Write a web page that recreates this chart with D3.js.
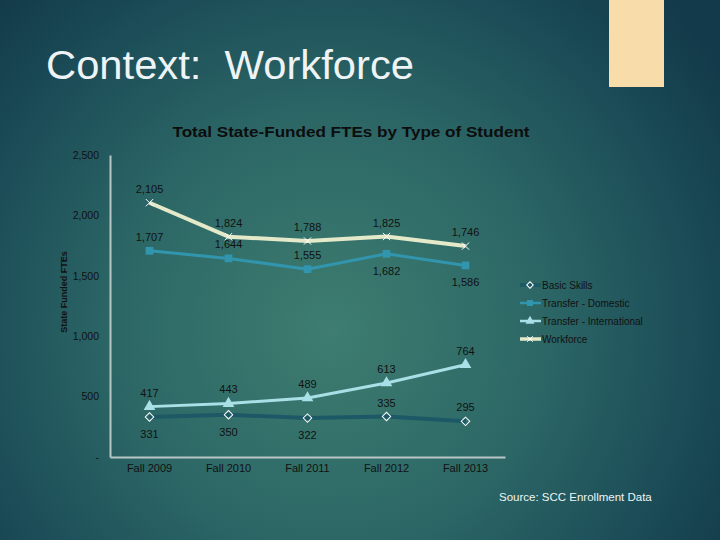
<!DOCTYPE html>
<html><head><meta charset="utf-8">
<script src="https://cdn.jsdelivr.net/npm/d3@7"></script>
<style>html,body{margin:0;padding:0;background:#153f4e;}svg{display:block;}</style>
</head><body>
<script>
const categories = ["Fall 2009","Fall 2010","Fall 2011","Fall 2012","Fall 2013"];
const basicSkills = [331,350,322,335,295];
const transferDomestic = [1707,1644,1555,1682,1586];
const transferInternational = [417,443,489,613,764];
const workforce = [2105,1824,1788,1825,1746];
const yTicks = [0,500,1000,1500,2000,2500];
// label placement: 1 = above, -1 = below
const basicPos = [-1,-1,-1,1,1];
const domesticPos = [1,1,1,-1,-1];

const W=720,H=540;
const svg=d3.select("body").append("svg").attr("width",W).attr("height",H);
const defs=svg.append("defs");
const rg=defs.append("radialGradient").attr("id","bg").attr("gradientUnits","userSpaceOnUse")
  .attr("cx",330).attr("cy",330).attr("r",470);
rg.append("stop").attr("offset","0").attr("stop-color","#3e7d70");
rg.append("stop").attr("offset","0.45").attr("stop-color","#2c6766");
rg.append("stop").attr("offset","0.8").attr("stop-color","#1a4a56");
rg.append("stop").attr("offset","1").attr("stop-color","#133a4a");
svg.append("rect").attr("width",W).attr("height",H).attr("fill","url(#bg)");

svg.append("rect").attr("x",609).attr("y",0).attr("width",55).attr("height",87).attr("fill","#f8dcaa");

svg.append("text").attr("x",46).attr("y",79).attr("font-family","Liberation Sans, Arial, sans-serif")
  .attr("font-size",40).attr("fill","#eef4f6").attr("textLength",368).attr("lengthAdjust","spacingAndGlyphs")
  .style("white-space","pre").attr("xml:space","preserve")
  .text("Context:  Workforce");

svg.append("text").attr("x",351).attr("y",137).attr("text-anchor","middle")
  .attr("font-family","Liberation Sans, Arial, sans-serif").attr("font-weight","bold").attr("font-size",15)
  .attr("fill","#0d0d0d").attr("textLength",357).attr("lengthAdjust","spacingAndGlyphs")
  .text("Total State-Funded FTEs by Type of Student");

const x=d3.scaleBand().domain(categories).range([110,505]);
const y=d3.scaleLinear().domain([0,2500]).range([457,155]);
const cx=c=>x(c)+x.bandwidth()/2;

// axes
const yAxis=svg.append("g").attr("transform","translate(110,0)")
  .call(d3.axisLeft(y).tickValues(yTicks).tickSize(0).tickPadding(11)
  .tickFormat(d=>d===0?"-":d3.format(",")(d)));
yAxis.select(".domain").attr("stroke","#b9c6c6").attr("stroke-width",2);
yAxis.selectAll("text").attr("font-family","Liberation Sans, Arial, sans-serif").attr("font-size",10.5).attr("fill","#111");

const xAxis=svg.append("g").attr("transform","translate(0,457)")
  .call(d3.axisBottom(x).tickSize(0).tickPadding(7));
xAxis.select(".domain").attr("stroke","#b9c6c6").attr("stroke-width",2);
xAxis.selectAll("text").attr("font-family","Liberation Sans, Arial, sans-serif").attr("font-size",11).attr("fill","#111");

svg.append("text").attr("transform","translate(67,292) rotate(-90)").attr("text-anchor","middle")
  .attr("font-family","Liberation Sans, Arial, sans-serif").attr("font-weight","bold").attr("font-size",9)
  .attr("fill","#111").text("State Funded FTEs");

const series=[
  {name:"Basic Skills",vals:basicSkills,color:"#1d5866",w:4,sym:d3.symbolSquare,rot:45,size:36,mfill:"none",mstroke:"#ffffff",pos:basicPos},
  {name:"Transfer - Domestic",vals:transferDomestic,color:"#3295ae",w:3,sym:d3.symbolSquare,rot:0,size:60,mfill:"#3295ae",mstroke:"none",pos:domesticPos},
  {name:"Transfer - International",vals:transferInternational,color:"#a9dfe6",w:3,sym:d3.symbolTriangle,rot:0,size:60,mfill:"#a9dfe6",mstroke:"none",pos:[1,1,1,1,1]},
  {name:"Workforce",vals:workforce,color:"#e4e9c9",w:4,sym:d3.symbolX,rot:0,size:36,mfill:"none",mstroke:"#ffffff",pos:[1,1,1,1,1]}
];
const line=d3.line().x(d=>cx(d.c)).y(d=>y(d.v));
series.forEach(s=>{
  const pts=categories.map((c,i)=>({c,v:s.vals[i],p:s.pos[i]}));
  svg.append("path").datum(pts).attr("d",line).attr("fill","none").attr("stroke",s.color).attr("stroke-width",s.w).attr("stroke-linejoin","round");
  svg.selectAll(null).data(pts).enter().append("path")
    .attr("transform",d=>`translate(${cx(d.c)},${y(d.v)}) rotate(${s.rot})`)
    .attr("d",d3.symbol().type(s.sym).size(s.size))
    .attr("fill",s.mfill).attr("stroke",s.mstroke).attr("stroke-width",s.mstroke==="none"?0:1);
  svg.selectAll(null).data(pts).enter().append("text")
    .attr("x",d=>cx(d.c)).attr("y",d=>y(d.v)+(d.p>0?-10:21)).attr("text-anchor","middle")
    .attr("font-family","Liberation Sans, Arial, sans-serif").attr("font-size",11).attr("fill","#111")
    .text(d=>d3.format(",")(d.v));
});

// legend
const lg=svg.append("g");
series.forEach((s,i)=>{
  const ly=285+i*18;
  lg.append("line").attr("x1",520).attr("x2",541).attr("y1",ly).attr("y2",ly).attr("stroke",s.color).attr("stroke-width",s.w-0.5);
  lg.append("path").attr("transform",`translate(530,${ly}) rotate(${s.rot})`).attr("d",d3.symbol().type(s.sym).size(s.size*0.6))
    .attr("fill",s.mfill).attr("stroke",s.mstroke).attr("stroke-width",s.mstroke==="none"?0:1);
  lg.append("text").attr("x",542).attr("y",ly+4).attr("font-family","Liberation Sans, Arial, sans-serif")
    .attr("font-size",10).attr("fill","#111").text(s.name);
});

svg.append("text").attr("x",499).attr("y",501).attr("font-family","Liberation Sans, Arial, sans-serif")
  .attr("font-size",11.5).attr("fill","#eef4f6").text("Source: SCC Enrollment Data");
</script>
</body></html>
